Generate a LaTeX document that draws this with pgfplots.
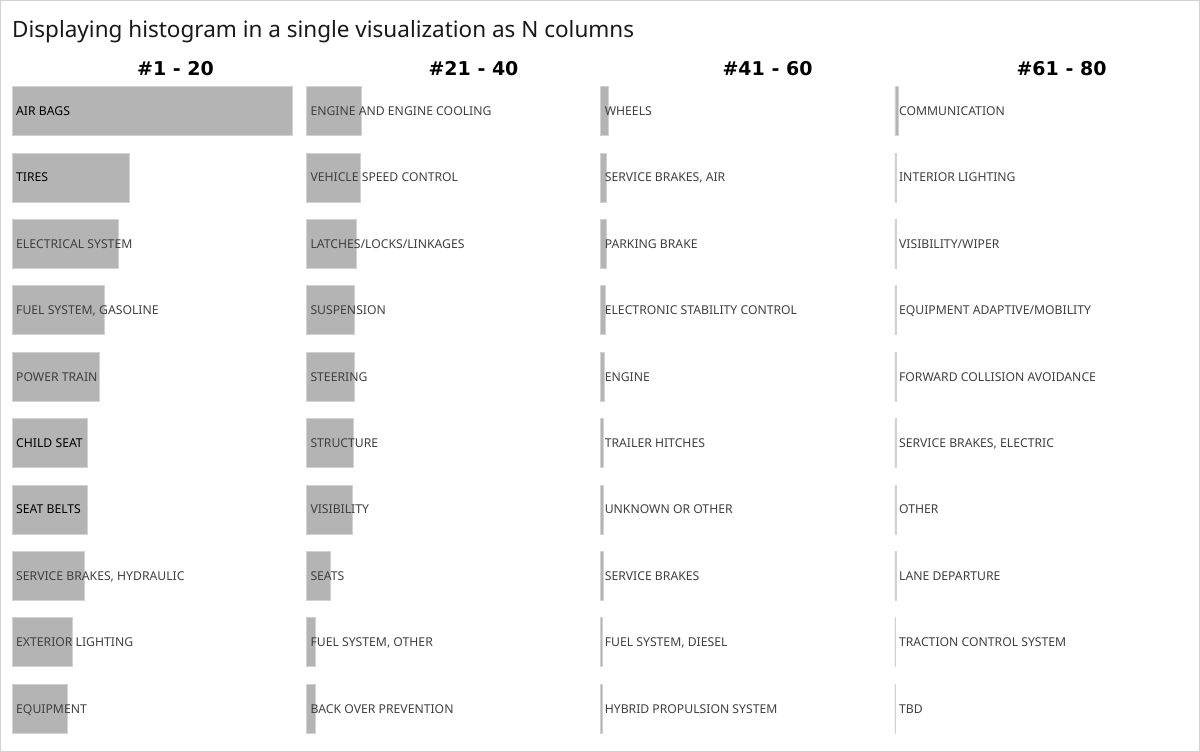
\documentclass[border=0pt]{standalone}
\usepackage{pgfplots}
\pgfplotsset{compat=1.18}
\usepackage{fontspec}
\setmainfont{Noto Sans}
\newfontfamily\hdrfont{DejaVu Sans}
\definecolor{barfill}{HTML}{B4B4B4}
\definecolor{baredge}{HTML}{D2D2D2}
\definecolor{lblgray}{HTML}{404040}
\definecolor{frame}{HTML}{D0D0D0}
\pgfplotsset{
  colaxis/.style={
    anchor=south west, scale only axis,
    width=282bp, height=664bp,
    xmin=0, xmax=282, ymin=0.5, ymax=10.5,
    hide axis, clip=false, xbar, bar width=0.738,
  },
  barstyle/.style={fill=barfill, draw=baredge, line width=0.8bp},
}
\tikzset{
  lbl/.style={anchor=west, inner sep=0pt, xshift=4bp, text height=8.6bp, text depth=0pt,
    font=\fontsize{12.2bp}{14bp}\selectfont, text=lblgray},
  lblk/.style={lbl, text=black},
  hdr/.style={anchor=base, inner sep=0pt, font=\hdrfont\fontsize{19bp}{22bp}\selectfont\bfseries, text=black},
}
\begin{document}
\begin{tikzpicture}[x=1bp,y=1bp]
\useasboundingbox (0,0) rectangle (1200,752);
\draw[frame, line width=1bp] (0.5,0.5) rectangle (1199.5,751.5);
\coordinate (c1) at (12,10);
\coordinate (c2) at (306.3,10);
\coordinate (c3) at (600.6,10);
\coordinate (c4) at (894.9,10);
\node[anchor=base west, inner sep=0pt, font=\fontsize{22.5bp}{26bp}\selectfont, text=black!90] at (12,714) {Displaying histogram in a single visualization as N columns};
\node[hdr] at (175.5,676) {\#1 - 20};
\node[hdr] at (473.5,676) {\#21 - 40};
\node[hdr] at (767.5,676) {\#41 - 60};
\node[hdr] at (1061.5,676) {\#61 - 80};

% Column 1: #1 - 20  (row 1 at top: y = 10 ... row 10 at bottom: y = 1)
\begin{axis}[colaxis, at={(c1)}]
\addplot[barstyle] coordinates {(280,10) (117,9) (106,8) (92.5,7) (87,6) (75.5,5) (75.3,4) (72.3,3) (60.7,2) (55,1)};
\node[lblk] at (axis cs:0,10) {AIR BAGS};
\node[lblk] at (axis cs:0,9) {TIRES};
\node[lbl] at (axis cs:0,8) {ELECTRICAL SYSTEM};
\node[lbl] at (axis cs:0,7) {FUEL SYSTEM, GASOLINE};
\node[lbl] at (axis cs:0,6) {POWER TRAIN};
\node[lblk] at (axis cs:0,5) {CHILD SEAT};
\node[lblk] at (axis cs:0,4) {SEAT BELTS};
\node[lbl] at (axis cs:0,3) {SERVICE BRAKES, HYDRAULIC};
\node[lbl] at (axis cs:0,2) {EXTERIOR LIGHTING};
\node[lbl] at (axis cs:0,1) {EQUIPMENT};
\end{axis}

% Column 2: #21 - 40
\begin{axis}[colaxis, at={(c2)}]
\addplot[barstyle] coordinates {(54.7,10) (54.5,9) (50,8) (48.3,7) (47.8,6) (47.5,5) (46.3,4) (24,3) (9.3,2) (9.2,1)};
\node[lbl] at (axis cs:0,10) {ENGINE AND ENGINE COOLING};
\node[lbl] at (axis cs:0,9) {VEHICLE SPEED CONTROL};
\node[lbl] at (axis cs:0,8) {LATCHES/LOCKS/LINKAGES};
\node[lbl] at (axis cs:0,7) {SUSPENSION};
\node[lbl] at (axis cs:0,6) {STEERING};
\node[lbl] at (axis cs:0,5) {STRUCTURE};
\node[lbl] at (axis cs:0,4) {VISIBILITY};
\node[lbl] at (axis cs:0,3) {SEATS};
\node[lbl] at (axis cs:0,2) {FUEL SYSTEM, OTHER};
\node[lbl] at (axis cs:0,1) {BACK OVER PREVENTION};
\end{axis}

% Column 3: #41 - 60
\begin{axis}[colaxis, at={(c3)}]
\addplot[barstyle] coordinates {(8,10) (5.6,9) (5.5,8) (4.3,7) (4,6) (3.2,5) (3,4) (2.4,3) (2.2,2) (2,1)};
\node[lbl] at (axis cs:0,10) {WHEELS};
\node[lbl] at (axis cs:0,9) {SERVICE BRAKES, AIR};
\node[lbl] at (axis cs:0,8) {PARKING BRAKE};
\node[lbl] at (axis cs:0,7) {ELECTRONIC STABILITY CONTROL};
\node[lbl] at (axis cs:0,6) {ENGINE};
\node[lbl] at (axis cs:0,5) {TRAILER HITCHES};
\node[lbl] at (axis cs:0,4) {UNKNOWN OR OTHER};
\node[lbl] at (axis cs:0,3) {SERVICE BRAKES};
\node[lbl] at (axis cs:0,2) {FUEL SYSTEM, DIESEL};
\node[lbl] at (axis cs:0,1) {HYBRID PROPULSION SYSTEM};
\end{axis}

% Column 4: #61 - 80
\begin{axis}[colaxis, at={(c4)}]
\addplot[barstyle] coordinates {(3,10) (1.5,9) (1.4,8) (1.3,7) (1.2,6) (1.1,5) (1.0,4) (1.0,3) (0.9,2) (0.8,1)};
\node[lbl] at (axis cs:0,10) {COMMUNICATION};
\node[lbl] at (axis cs:0,9) {INTERIOR LIGHTING};
\node[lbl] at (axis cs:0,8) {VISIBILITY/WIPER};
\node[lbl] at (axis cs:0,7) {EQUIPMENT ADAPTIVE/MOBILITY};
\node[lbl] at (axis cs:0,6) {FORWARD COLLISION AVOIDANCE};
\node[lbl] at (axis cs:0,5) {SERVICE BRAKES, ELECTRIC};
\node[lbl] at (axis cs:0,4) {OTHER};
\node[lbl] at (axis cs:0,3) {LANE DEPARTURE};
\node[lbl] at (axis cs:0,2) {TRACTION CONTROL SYSTEM};
\node[lbl] at (axis cs:0,1) {TBD};
\end{axis}
\end{tikzpicture}
\end{document}
